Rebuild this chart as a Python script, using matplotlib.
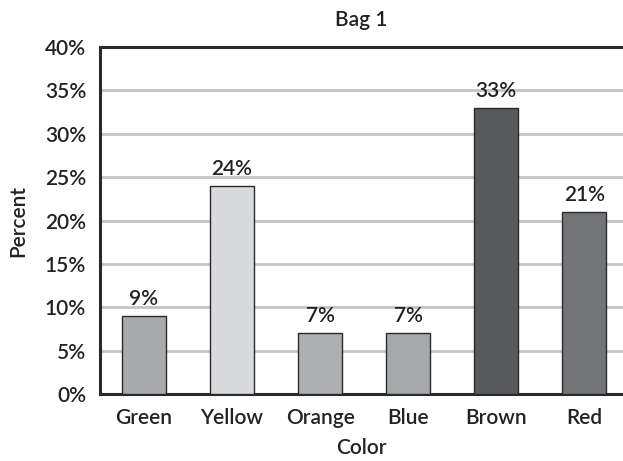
import matplotlib.pyplot as plt
import numpy as np

# data
colors = ["Green", "Yellow", "Orange", "Blue", "Brown", "Red"]
percent = [9, 24, 7, 7, 33, 21]
fills = ["#a9aaad", "#d9dadc", "#aeafb1", "#a6a9ab", "#58595b", "#737476"]
y_ticks = [0, 5, 10, 15, 20, 25, 30, 35, 40]

plt.rcParams['font.family'] = ['Lato', 'DejaVu Sans']
plt.rcParams['font.weight'] = 'semibold'
fs = 15
ink = "#222222"

fig = plt.figure(figsize=(6.23, 4.61), dpi=100)
ax = fig.add_axes([100 / 623, 1 - 394 / 461, 523 / 623, (394 - 47) / 461])

x = np.arange(len(colors))
bars = ax.bar(x, percent, width=0.5, color=fills, edgecolor="#2a2a2a",
              linewidth=1.0, zorder=3)

# value labels
for xi, p in zip(x, percent):
    ax.text(xi, p + 0.8, f"{p}%", ha="center", va="bottom", fontsize=fs,
            color=ink, fontweight="semibold", zorder=4)

# Oy
ax.set_ylim(0, 40)
ax.set_yticks(y_ticks)
ax.set_yticklabels([f"{y}%" for y in y_ticks], fontsize=fs, color=ink,
                   fontweight="semibold")

# Ox
ax.set_xlim(-0.5, 5.44)
ax.set_xticks(x)
ax.set_xticklabels(colors, fontsize=fs, color=ink, fontweight="semibold")
ax.tick_params(axis="y", length=0, pad=10)
ax.tick_params(axis="x", length=0, pad=10)

# grid
ax.yaxis.grid(True, color="#c4c4c4", linewidth=2, zorder=0)
ax.set_axisbelow(True)

# spines
for side in ["left", "top", "bottom"]:
    ax.spines[side].set_linewidth(2.2)
    ax.spines[side].set_color("#2a2a2a")
ax.spines["right"].set_visible(False)

# labels
ax.set_title("Bag 1", fontsize=fs, color=ink, fontweight="semibold", pad=15)
ax.set_xlabel("Color", fontsize=fs, color=ink, fontweight="semibold", labelpad=7)
ax.set_ylabel("Percent", fontsize=fs, color=ink, fontweight="semibold", labelpad=12)

fig.savefig("out.png", dpi=100)
